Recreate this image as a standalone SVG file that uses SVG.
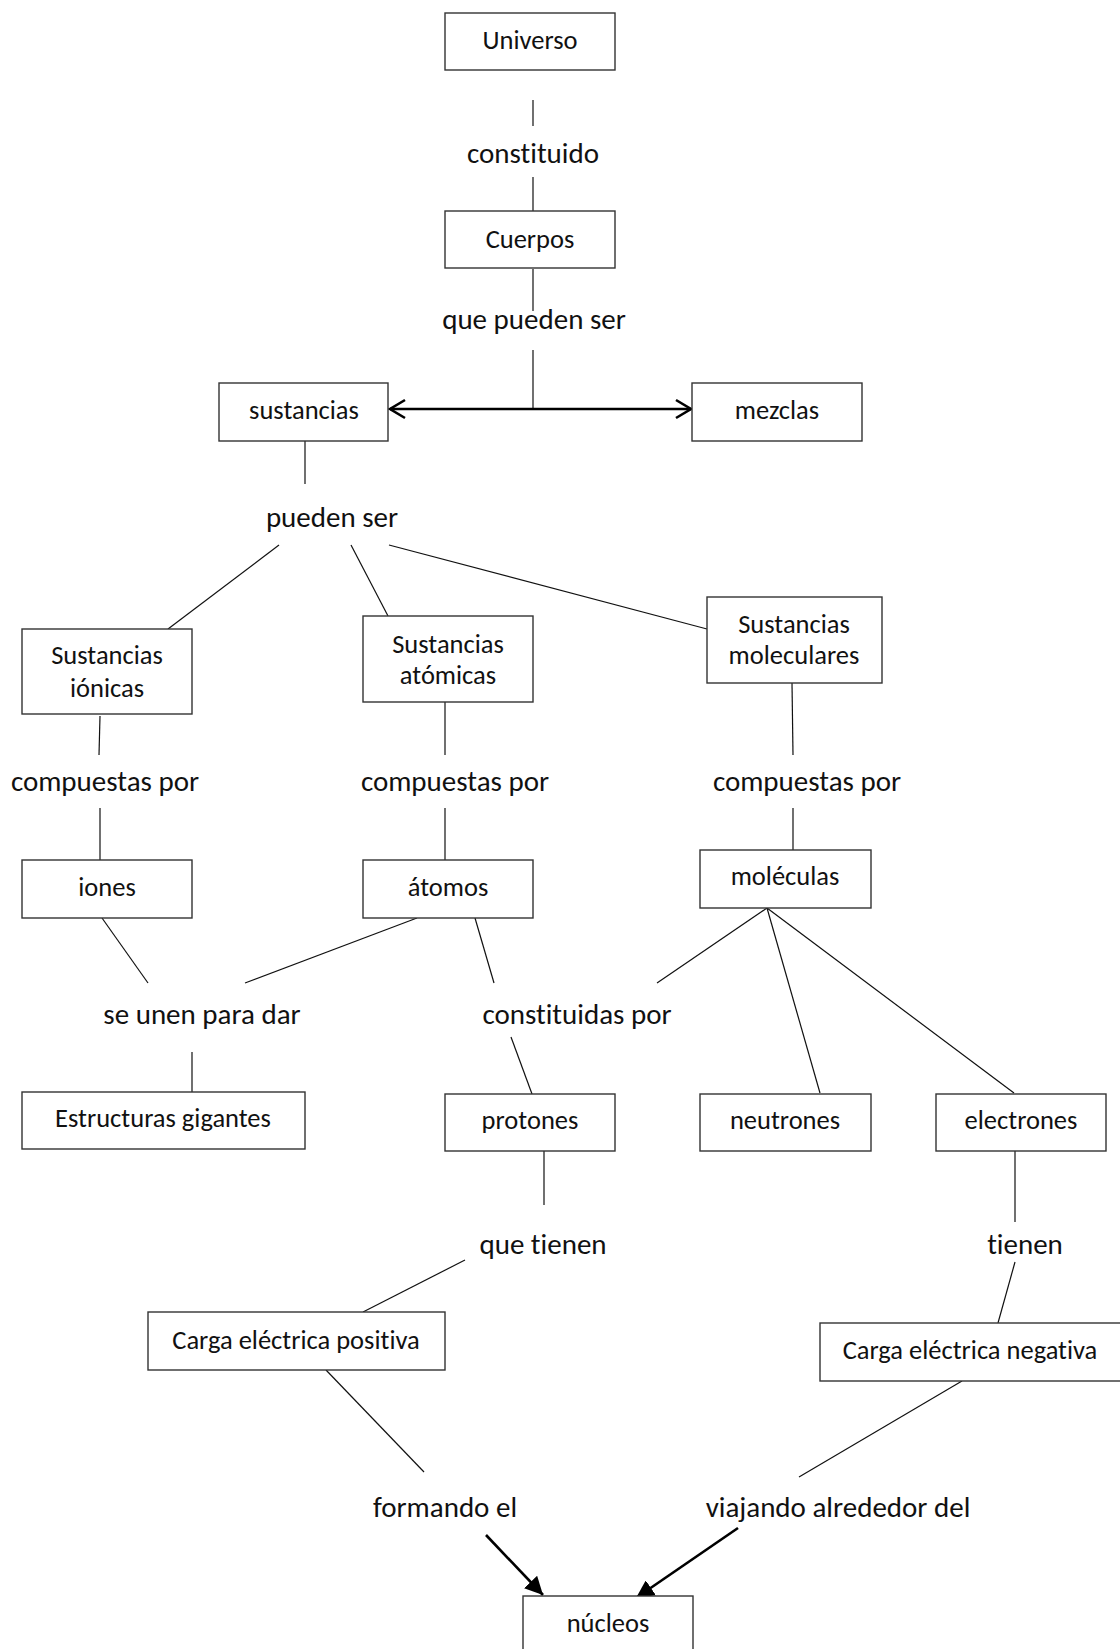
<svg xmlns="http://www.w3.org/2000/svg" width="1120" height="1649" viewBox="0 0 1120 1649">
<style>
  .box rect { fill: #fff; stroke: #333; stroke-width: 1.4; }
  .bt { font-family: Carlito, Calibri, Lato, "Open Sans", sans-serif; font-size: 26.5px; fill: #111; text-anchor: middle; font-variant-ligatures: none; }
  .lb { font-family: Carlito, Calibri, Lato, "Open Sans", sans-serif; font-size: 29px; fill: #111; text-anchor: middle; font-variant-ligatures: none; }
  .c { stroke: #111; stroke-width: 1.2; fill: none; }
  .thick { stroke: #000; stroke-width: 2.6; fill: none; }
</style>
<defs>
  <marker id="open" markerUnits="userSpaceOnUse" markerWidth="20" markerHeight="22" viewBox="0 0 20 22" refX="17" refY="11" orient="auto-start-reverse">
    <path d="M2,2 L17,11 L2,20" fill="none" stroke="#000" stroke-width="2.6"/>
  </marker>
  <marker id="fill" markerUnits="userSpaceOnUse" markerWidth="20" markerHeight="18" viewBox="0 0 20 18" refX="18" refY="9" orient="auto">
    <path d="M0,0 L18,9 L0,18 z" fill="#000"/>
  </marker>
</defs>
<rect width="1120" height="1649" fill="#fff"/>

<g id="connectors">
  <line class="c" x1="533" y1="100" x2="533" y2="126"/>
  <line class="c" x1="533" y1="177" x2="533" y2="211"/>
  <line class="c" x1="533" y1="269" x2="533" y2="311"/>
  <line class="c" x1="533" y1="350" x2="533" y2="409"/>
  <line class="thick" x1="390" y1="409" x2="691" y2="409" marker-start="url(#open)" marker-end="url(#open)"/>
  <line class="c" x1="305" y1="441" x2="305" y2="484"/>
  <line class="c" x1="279" y1="545" x2="168" y2="629"/>
  <line class="c" x1="351" y1="545" x2="388" y2="616"/>
  <line class="c" x1="389" y1="545" x2="707" y2="629"/>
  <line class="c" x1="100" y1="716" x2="99" y2="755"/>
  <line class="c" x1="100" y1="808" x2="100" y2="860"/>
  <line class="c" x1="445" y1="702" x2="445" y2="755"/>
  <line class="c" x1="445" y1="808" x2="445" y2="860"/>
  <line class="c" x1="792" y1="683" x2="793" y2="755"/>
  <line class="c" x1="793" y1="808" x2="793" y2="850"/>
  <line class="c" x1="102" y1="918" x2="148" y2="983"/>
  <line class="c" x1="417" y1="918" x2="245" y2="983"/>
  <line class="c" x1="192" y1="1052" x2="192" y2="1093"/>
  <line class="c" x1="475" y1="918" x2="494" y2="983"/>
  <line class="c" x1="767" y1="908" x2="657" y2="983"/>
  <line class="c" x1="767" y1="908" x2="820" y2="1093"/>
  <line class="c" x1="767" y1="908" x2="1014" y2="1093"/>
  <line class="c" x1="511" y1="1037" x2="532" y2="1094"/>
  <line class="c" x1="544" y1="1151" x2="544" y2="1205"/>
  <line class="c" x1="465" y1="1260" x2="363" y2="1312"/>
  <line class="c" x1="1015" y1="1151" x2="1015" y2="1222"/>
  <line class="c" x1="1015" y1="1262" x2="998" y2="1323"/>
  <line class="c" x1="326" y1="1370" x2="424" y2="1472"/>
  <line class="c" x1="962" y1="1381" x2="799" y2="1477"/>
  <line class="thick" x1="486" y1="1535" x2="543" y2="1595" marker-end="url(#fill)"/>
  <line class="thick" x1="738" y1="1528" x2="636" y2="1598" marker-end="url(#fill)"/>
</g>

<g id="labels">
  <text class="lb" x="533" y="163">constituido</text>
  <text class="lb" x="534" y="329">que pueden ser</text>
  <text class="lb" x="332" y="527">pueden ser</text>
  <text class="lb" x="105" y="791">compuestas por</text>
  <text class="lb" x="455" y="791">compuestas por</text>
  <text class="lb" x="807" y="791">compuestas por</text>
  <text class="lb" x="202" y="1024">se unen para dar</text>
  <text class="lb" x="577" y="1024">constituidas por</text>
  <text class="lb" x="543" y="1254">que tienen</text>
  <text class="lb" x="1025" y="1254">tienen</text>
  <text class="lb" x="445" y="1517">formando el</text>
  <text class="lb" x="838" y="1517">viajando alrededor del</text>
</g>

<g id="universo" class="box"><rect x="445" y="13" width="170" height="57"/><text class="bt" x="530" y="49">Universo</text></g>
<g id="cuerpos" class="box"><rect x="445" y="211" width="170" height="57"/><text class="bt" x="530" y="248">Cuerpos</text></g>
<g id="sustancias" class="box"><rect x="219" y="383" width="169" height="58"/><text class="bt" x="304" y="419">sustancias</text></g>
<g id="mezclas" class="box"><rect x="692" y="383" width="170" height="58"/><text class="bt" x="777" y="419">mezclas</text></g>
<g id="sust-ionicas" class="box"><rect x="22" y="629" width="170" height="85"/><text class="bt" x="107" y="664">Sustancias</text><text class="bt" x="107" y="697">iónicas</text></g>
<g id="sust-atomicas" class="box"><rect x="363" y="616" width="170" height="86"/><text class="bt" x="448" y="653">Sustancias</text><text class="bt" x="448" y="684">atómicas</text></g>
<g id="sust-moleculares" class="box"><rect x="707" y="597" width="175" height="86"/><text class="bt" x="794" y="633">Sustancias</text><text class="bt" x="794" y="664">moleculares</text></g>
<g id="iones" class="box"><rect x="22" y="860" width="170" height="58"/><text class="bt" x="107" y="896">iones</text></g>
<g id="atomos" class="box"><rect x="363" y="860" width="170" height="58"/><text class="bt" x="448" y="896">átomos</text></g>
<g id="moleculas" class="box"><rect x="700" y="850" width="171" height="58"/><text class="bt" x="785" y="885">moléculas</text></g>
<g id="estructuras" class="box"><rect x="22" y="1092" width="283" height="57"/><text class="bt" x="163" y="1127">Estructuras gigantes</text></g>
<g id="protones" class="box"><rect x="445" y="1094" width="170" height="57"/><text class="bt" x="530" y="1129">protones</text></g>
<g id="neutrones" class="box"><rect x="700" y="1094" width="171" height="57"/><text class="bt" x="785" y="1129">neutrones</text></g>
<g id="electrones" class="box"><rect x="936" y="1094" width="170" height="57"/><text class="bt" x="1021" y="1129">electrones</text></g>
<g id="carga-positiva" class="box"><rect x="148" y="1312" width="297" height="58"/><text class="bt" x="296" y="1349">Carga eléctrica positiva</text></g>
<g id="carga-negativa" class="box"><rect x="820" y="1323" width="320" height="58"/><text class="bt" x="970" y="1359">Carga eléctrica negativa</text></g>
<g id="nucleos" class="box"><rect x="523" y="1596" width="170" height="70"/><text class="bt" x="608" y="1632">núcleos</text></g>
</svg>
